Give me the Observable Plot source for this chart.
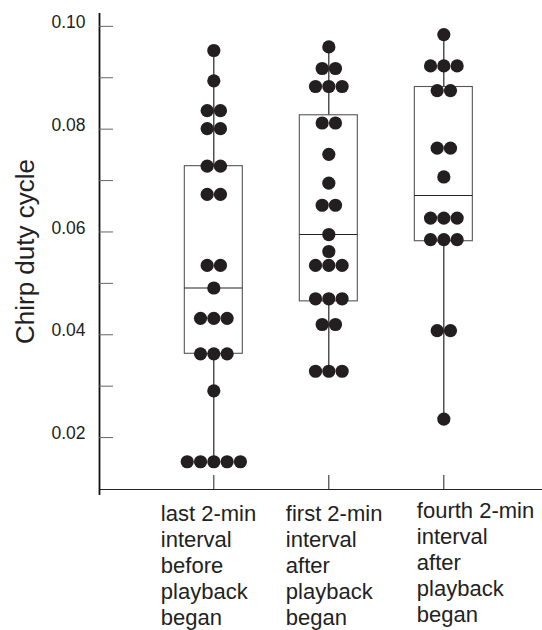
<!DOCTYPE html>
<html>
<head>
<meta charset="utf-8">
<script src="https://cdn.jsdelivr.net/npm/d3@7"></script>
<script src="https://cdn.jsdelivr.net/npm/@observablehq/plot@0.6"></script>
<style>
  html, body { margin: 0; padding: 0; background: #fff; }
  #chart svg { display: block; }
</style>
</head>
<body>
<div id="chart"></div>
<script>
// ---- data ----
const groups = ["last 2-min interval before playback began", "first 2-min interval after playback began", "fourth 2-min interval after playback began"];
const groupLabels = ["last 2-min\ninterval\nbefore\nplayback\nbegan", "first 2-min\ninterval\nafter\nplayback\nbegan", "fourth 2-min\ninterval\nafter\nplayback\nbegan"];

const lastBefore = [0.0953, 0.0894, 0.0836, 0.0836, 0.0801, 0.0801, 0.0728, 0.0728, 0.0673, 0.0673,
  0.0535, 0.0535, 0.0491, 0.0432, 0.0432, 0.0432, 0.0363, 0.0363, 0.0363, 0.0291,
  0.0153, 0.0153, 0.0153, 0.0153, 0.0153];
const firstAfter = [0.0960, 0.0918, 0.0918, 0.0883, 0.0883, 0.0883, 0.0812, 0.0812, 0.0751, 0.0695,
  0.0652, 0.0652, 0.0595, 0.0562, 0.0535, 0.0535, 0.0535, 0.0470, 0.0470, 0.0470,
  0.0420, 0.0420, 0.0329, 0.0329, 0.0329];
const fourthAfter = [0.0984, 0.0923, 0.0923, 0.0923, 0.0875, 0.0875, 0.0763, 0.0763, 0.0707,
  0.0627, 0.0627, 0.0627, 0.0585, 0.0585, 0.0585, 0.0408, 0.0408, 0.0236];

const boxQ1 = [0.0363, 0.0465, 0.0582];
const boxMedian = [0.0491, 0.0595, 0.0671];
const boxQ3 = [0.0728, 0.0827, 0.0882];

const yTicks = [0.02, 0.03, 0.04, 0.05, 0.06, 0.07, 0.08, 0.09, 0.10];
const yTickLabels = ["0.02", "0.04", "0.06", "0.08", "0.10"];
const yLabel = "Chirp duty cycle";

// ---- layout / style ----
const W = 542, H = 630;
const mL = 99, mR = 0, mT = 13, mB = 141;
const xDomain = [-0.994, 2.858];
const yDomain = [0.0099, 0.1025];
const pxPerX = (W - mL - mR) / (xDomain[1] - xDomain[0]);
const dotR = 6.6;
const dotSpacing = 13.3 / pxPerX;
const boxHalf = 29 / pxPerX;
const frameW = W - mL - mR, frameH = H - mT - mB;
const font = "'Liberation Sans', Arial, Helvetica, sans-serif";
const labelDx = [-53, -43, -27];
const labelDy = [13, 13, 10];

const series = [lastBefore, firstAfter, fourthAfter];
const dots = series.flatMap((vals, g) =>
  Array.from(d3.group(vals, v => v), ([v, arr]) =>
    arr.map((_, i) => ({g, v, x: g + (i - (arr.length - 1) / 2) * dotSpacing}))
  ).flat()
);
const stats = groups.map((name, i) => ({
  i, name,
  q1: boxQ1[i], med: boxMedian[i], q3: boxQ3[i],
  min: d3.min(series[i]), max: d3.max(series[i])
}));

const plot = Plot.plot({
  width: W, height: H,
  marginLeft: mL, marginRight: mR, marginTop: mT, marginBottom: mB,
  style: {fontFamily: font, background: "#fff", overflow: "visible"},
  x: {domain: xDomain, axis: null},
  y: {domain: yDomain, axis: null},
  marks: [
    // axes lines
    Plot.ruleY([yDomain[0]], {stroke: "#222", strokeWidth: 1.2}),
    Plot.ruleX([xDomain[0]], {stroke: "#111", strokeWidth: 1.8, insetBottom: -6}),
    // y ticks (inward)
    Plot.ruleY(yTicks, {stroke: "#666", strokeWidth: 1, insetRight: frameW - 14}),
    // y tick labels
    Plot.text(yTickLabels, {y: d => +d, text: d => d, frameAnchor: "left", dx: -14, dy: -4,
      textAnchor: "end", fontSize: 17.5, fill: "#222"}),
    // x ticks (inward)
    Plot.ruleX([0, 1, 2], {stroke: "#222", strokeWidth: 1, insetTop: frameH - 14}),
    // y label
    Plot.text([yLabel], {text: d => d, frameAnchor: "left", dx: -74, rotate: -90,
      fontSize: 26, fill: "#222", textAnchor: "middle", lineAnchor: "middle"}),
    // x labels
    ...groupLabels.map((lab, i) => Plot.text([lab], {x: i, text: d => d, frameAnchor: "bottom",
      dx: labelDx[i], dy: labelDy[i], textAnchor: "start", lineAnchor: "top",
      lineHeight: 1.18, fontSize: 22, fill: "#222"})),
    // whiskers
    Plot.ruleX(stats, {x: "i", y1: "min", y2: "q1", stroke: "#111", strokeWidth: 1.1}),
    Plot.ruleX(stats, {x: "i", y1: "q3", y2: "max", stroke: "#111", strokeWidth: 1.1}),
    // boxes
    Plot.rect(stats, {x1: d => d.i - boxHalf, x2: d => d.i + boxHalf, y1: "q1", y2: "q3",
      fill: "none", stroke: "#555", strokeWidth: 1.1}),
    // medians
    Plot.ruleY(stats, {y: "med", x1: d => d.i - boxHalf, x2: d => d.i + boxHalf, stroke: "#222", strokeWidth: 1.1}),
    // dots
    Plot.dot(dots, {x: "x", y: "v", r: dotR, fill: "#231f20", stroke: "none"})
  ]
});
document.getElementById("chart").appendChild(plot);
</script>
</body>
</html>
